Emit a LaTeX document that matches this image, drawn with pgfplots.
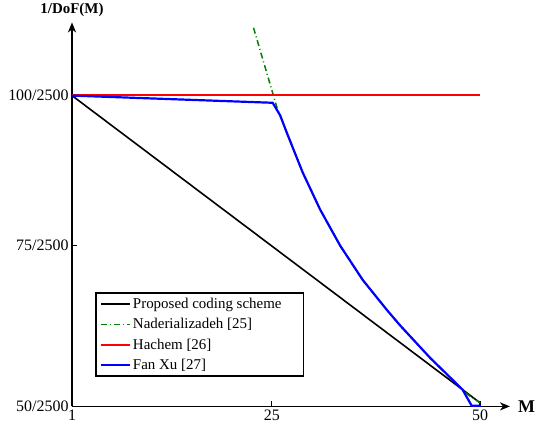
\documentclass[border=0pt]{standalone}
\usepackage{fontspec}
\setmainfont{Liberation Serif}
\usepackage{pgfplots}
\pgfplotsset{compat=1.18}
\usetikzlibrary{arrows.meta}
\definecolor{mgreen}{RGB}{0,128,0}

\begin{document}
\begin{tikzpicture}[font=\fontsize{15pt}{18pt}\selectfont]
\begin{axis}[
    scale only axis,
    width=438bp, height=384bp,
    xmin=1, xmax=53.6,
    ymin=48.2, ymax=112.2,
    axis lines=left,
    axis line style={line width=1.6bp, -{Stealth[length=10bp,width=8bp,inset=3bp]}},
    xtick={1,25,50}, xticklabels={1,25,50},
    ytick={48.2,75,100}, yticklabels={50/2500,75/2500,100/2500},
    tick label style={font=\fontsize{16pt}{19pt}\selectfont},
    tick style={black, line width=1.2bp},
    major tick length=5bp,
    tick align=inside,
    /pgf/number format/assume math mode=true,
    every axis y label/.style={at={(axis description cs:0,1)}, anchor=south, yshift=2bp},
    every axis x label/.style={at={(axis description cs:1,0)}, anchor=west, xshift=8bp,
        inner sep=0pt, font=\fontsize{18pt}{21pt}\selectfont},
    ylabel={\textbf{1/DoF(M)}},
    xlabel={\textbf{M}},
    clip=false,
    legend cell align=left,
    legend style={at={(0.0525,0.297)}, anchor=north west, draw=black, line width=1.6bp,
        row sep=4.5bp, inner xsep=4bp, inner ysep=3bp},
    legend image code/.code={\draw[#1] (0bp,0bp) -- (29bp,0bp);},
]
    % proposed
    \addplot[black, line width=1.6bp] coordinates {
        (1,100) (50,48.8)
    };
    % Naderializadeh
    \addplot[mgreen, line width=1.5bp, dash pattern=on 6bp off 3bp on 1bp off 3bp] coordinates {
        (22.8,111.3) (25.7,97.6) (26.0,96.7) (26.8,93.8) (28.7,87.2) (30.8,81.0)
        (33.2,75.0) (35.9,69.3) (38.8,64.3) (40.4,61.7) (44.0,56.3) (47.4,51.6)
        (48.5,50.2) (50,48.8)
    };
    % Hachem
    \addplot[red, line width=2bp] coordinates {
        (1,100.1) (50,100.1)
    };
    % Fan Xu
    \addplot[blue, line width=2.2bp] coordinates {
        (1,100) (25.1,98.8) (26.0,96.7) (26.8,93.8) (28.7,87.2) (30.8,81.0)
        (33.2,75.0) (35.9,69.3) (38.8,64.3) (40.4,61.7) (44.0,56.3) (47.9,51.0)
        (49.0,48.3) (50.1,48.3)
    };
    \legend{Proposed coding scheme\hspace*{16bp}, Naderializadeh [25], Hachem [26], Fan Xu [27]}
\end{axis}
\path ([xshift=-72bp,yshift=-19bp]current axis.south west) rectangle ([xshift=28bp,yshift=20bp]current axis.north east);
\end{tikzpicture}
\end{document}
